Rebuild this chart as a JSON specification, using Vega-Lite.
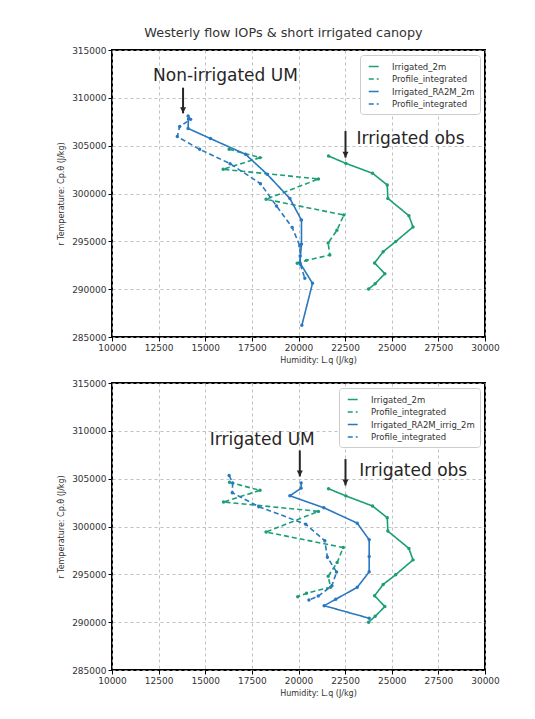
{
  "$schema": "https://vega.github.io/schema/vega-lite/v6.json",
  "padding": {"left": 56, "top": 27, "right": 5, "bottom": 5},
  "background": "white",
  "title": {"text": "Westerly flow IOPs & short irrigated canopy", "fontSize": 12.8, "fontWeight": "normal", "font": "DejaVu Sans", "color": "#333", "anchor": "middle", "dx": 5, "offset": 5},
  "spacing": 13,
  "datasets": {
    "top_lines": [
      {"series": "Irrigated_2m", "i": 0, "x": 21610, "y": 303920},
      {"series": "Irrigated_2m", "i": 1, "x": 22540, "y": 303150},
      {"series": "Irrigated_2m", "i": 2, "x": 23970, "y": 302110},
      {"series": "Irrigated_2m", "i": 3, "x": 24760, "y": 300890},
      {"series": "Irrigated_2m", "i": 4, "x": 24790, "y": 299490},
      {"series": "Irrigated_2m", "i": 5, "x": 25920, "y": 297680},
      {"series": "Irrigated_2m", "i": 6, "x": 26140, "y": 296500},
      {"series": "Irrigated_2m", "i": 7, "x": 25210, "y": 294970},
      {"series": "Irrigated_2m", "i": 8, "x": 24540, "y": 293920},
      {"series": "Irrigated_2m", "i": 9, "x": 24080, "y": 292740},
      {"series": "Irrigated_2m", "i": 10, "x": 24630, "y": 291620},
      {"series": "Irrigated_2m", "i": 11, "x": 24110, "y": 290570},
      {"series": "Irrigated_2m", "i": 12, "x": 23760, "y": 290020},
      {"series": "Profile_integrated_g", "i": 0, "x": 16280, "y": 304620},
      {"series": "Profile_integrated_g", "i": 1, "x": 17940, "y": 303750},
      {"series": "Profile_integrated_g", "i": 2, "x": 15960, "y": 302530},
      {"series": "Profile_integrated_g", "i": 3, "x": 21070, "y": 301520},
      {"series": "Profile_integrated_g", "i": 4, "x": 18260, "y": 299390},
      {"series": "Profile_integrated_g", "i": 5, "x": 22430, "y": 297750},
      {"series": "Profile_integrated_g", "i": 6, "x": 22060, "y": 296150},
      {"series": "Profile_integrated_g", "i": 7, "x": 21590, "y": 294830},
      {"series": "Profile_integrated_g", "i": 8, "x": 21680, "y": 293570},
      {"series": "Profile_integrated_g", "i": 9, "x": 20430, "y": 293010},
      {"series": "Profile_integrated_g", "i": 10, "x": 19930, "y": 292700},
      {"series": "Irrigated_RA2M_2m", "i": 0, "x": 14100, "y": 307800},
      {"series": "Irrigated_RA2M_2m", "i": 1, "x": 14080, "y": 306800},
      {"series": "Irrigated_RA2M_2m", "i": 2, "x": 15280, "y": 305740},
      {"series": "Irrigated_RA2M_2m", "i": 3, "x": 17160, "y": 304100},
      {"series": "Irrigated_RA2M_2m", "i": 4, "x": 18320, "y": 302010},
      {"series": "Irrigated_RA2M_2m", "i": 5, "x": 19540, "y": 299470},
      {"series": "Irrigated_RA2M_2m", "i": 6, "x": 20160, "y": 297220},
      {"series": "Irrigated_RA2M_2m", "i": 7, "x": 20160, "y": 294710},
      {"series": "Irrigated_RA2M_2m", "i": 8, "x": 20070, "y": 292780},
      {"series": "Irrigated_RA2M_2m", "i": 9, "x": 20750, "y": 290610},
      {"series": "Irrigated_RA2M_2m", "i": 10, "x": 20180, "y": 286220},
      {"series": "Profile_integrated_b", "i": 0, "x": 14080, "y": 308100},
      {"series": "Profile_integrated_b", "i": 1, "x": 14220, "y": 307750},
      {"series": "Profile_integrated_b", "i": 2, "x": 13630, "y": 307000},
      {"series": "Profile_integrated_b", "i": 3, "x": 13500, "y": 305950},
      {"series": "Profile_integrated_b", "i": 4, "x": 14700, "y": 304620},
      {"series": "Profile_integrated_b", "i": 5, "x": 16330, "y": 303120},
      {"series": "Profile_integrated_b", "i": 6, "x": 17960, "y": 301030},
      {"series": "Profile_integrated_b", "i": 7, "x": 18820, "y": 298690},
      {"series": "Profile_integrated_b", "i": 8, "x": 19660, "y": 296460},
      {"series": "Profile_integrated_b", "i": 9, "x": 20070, "y": 294510},
      {"series": "Profile_integrated_b", "i": 10, "x": 20090, "y": 293470},
      {"series": "Profile_integrated_b", "i": 11, "x": 20100, "y": 292600},
      {"series": "Profile_integrated_b", "i": 12, "x": 20340, "y": 291130}
    ],
    "bottom_lines": [
      {"series": "Irrigated_2m", "i": 0, "x": 21610, "y": 303950},
      {"series": "Irrigated_2m", "i": 1, "x": 22540, "y": 303200},
      {"series": "Irrigated_2m", "i": 2, "x": 23970, "y": 302140},
      {"series": "Irrigated_2m", "i": 3, "x": 24760, "y": 300920},
      {"series": "Irrigated_2m", "i": 4, "x": 24790, "y": 299520},
      {"series": "Irrigated_2m", "i": 5, "x": 25920, "y": 297710},
      {"series": "Irrigated_2m", "i": 6, "x": 26140, "y": 296510},
      {"series": "Irrigated_2m", "i": 7, "x": 25210, "y": 294960},
      {"series": "Irrigated_2m", "i": 8, "x": 24540, "y": 293940},
      {"series": "Irrigated_2m", "i": 9, "x": 24080, "y": 292760},
      {"series": "Irrigated_2m", "i": 10, "x": 24630, "y": 291630},
      {"series": "Irrigated_2m", "i": 11, "x": 24110, "y": 290610},
      {"series": "Irrigated_2m", "i": 12, "x": 23760, "y": 290000},
      {"series": "Profile_integrated_g", "i": 0, "x": 16300, "y": 304620},
      {"series": "Profile_integrated_g", "i": 1, "x": 17940, "y": 303780},
      {"series": "Profile_integrated_g", "i": 2, "x": 15980, "y": 302560},
      {"series": "Profile_integrated_g", "i": 3, "x": 21070, "y": 301580},
      {"series": "Profile_integrated_g", "i": 4, "x": 18260, "y": 299420},
      {"series": "Profile_integrated_g", "i": 5, "x": 22400, "y": 297800},
      {"series": "Profile_integrated_g", "i": 6, "x": 22070, "y": 296230},
      {"series": "Profile_integrated_g", "i": 7, "x": 21590, "y": 294800},
      {"series": "Profile_integrated_g", "i": 8, "x": 21720, "y": 293650},
      {"series": "Profile_integrated_g", "i": 9, "x": 20430, "y": 293030},
      {"series": "Profile_integrated_g", "i": 10, "x": 19960, "y": 292650},
      {"series": "Irrigated_RA2M_irrig_2m", "i": 0, "x": 20140, "y": 304540},
      {"series": "Irrigated_RA2M_irrig_2m", "i": 1, "x": 20140, "y": 304010},
      {"series": "Irrigated_RA2M_irrig_2m", "i": 2, "x": 19540, "y": 303210},
      {"series": "Irrigated_RA2M_irrig_2m", "i": 3, "x": 21360, "y": 301960},
      {"series": "Irrigated_RA2M_irrig_2m", "i": 4, "x": 23150, "y": 300350},
      {"series": "Irrigated_RA2M_irrig_2m", "i": 5, "x": 23790, "y": 298610},
      {"series": "Irrigated_RA2M_irrig_2m", "i": 6, "x": 23790, "y": 296860},
      {"series": "Irrigated_RA2M_irrig_2m", "i": 7, "x": 23790, "y": 295260},
      {"series": "Irrigated_RA2M_irrig_2m", "i": 8, "x": 23150, "y": 293640},
      {"series": "Irrigated_RA2M_irrig_2m", "i": 9, "x": 22000, "y": 292400},
      {"series": "Irrigated_RA2M_irrig_2m", "i": 10, "x": 21380, "y": 291720},
      {"series": "Irrigated_RA2M_irrig_2m", "i": 11, "x": 23790, "y": 290410},
      {"series": "Profile_integrated_b", "i": 0, "x": 16280, "y": 305330},
      {"series": "Profile_integrated_b", "i": 1, "x": 16470, "y": 304550},
      {"series": "Profile_integrated_b", "i": 2, "x": 16450, "y": 303530},
      {"series": "Profile_integrated_b", "i": 3, "x": 17870, "y": 302070},
      {"series": "Profile_integrated_b", "i": 4, "x": 20390, "y": 300240},
      {"series": "Profile_integrated_b", "i": 5, "x": 21410, "y": 298510},
      {"series": "Profile_integrated_b", "i": 6, "x": 21550, "y": 296790},
      {"series": "Profile_integrated_b", "i": 7, "x": 22040, "y": 295240},
      {"series": "Profile_integrated_b", "i": 8, "x": 21790, "y": 293800},
      {"series": "Profile_integrated_b", "i": 9, "x": 21060, "y": 292730},
      {"series": "Profile_integrated_b", "i": 10, "x": 20560, "y": 292320}
    ],
    "top_text": [
      {"label": "Non-irrigated UM", "x": 12200, "y": 312300},
      {"label": "Irrigated obs", "x": 23110, "y": 305660}
    ],
    "top_arrows": [
      {"x": 13810, "y": 311060, "y2": 308380},
      {"x": 22520, "y": 306530, "y2": 303750}
    ],
    "bottom_text": [
      {"label": "Irrigated UM", "x": 15240, "y": 309070},
      {"label": "Irrigated obs", "x": 23256, "y": 305760}
    ],
    "bottom_arrows": [
      {"x": 20070, "y": 307950, "y2": 305230},
      {"x": 22520, "y": 307050, "y2": 304290}
    ]
  },
  "resolve": {"scale": {"color": "independent", "strokeDash": "independent"}, "legend": {"color": "independent", "strokeDash": "independent"}},
  "vconcat": [
    {
      "width": 373,
      "height": 287,
      "layer": [
        {
          "data": {"name": "top_lines"},
          "mark": {"type": "line", "strokeWidth": 1.6, "point": {"filled": true, "size": 12}},
          "encoding": {
            "x": {"field": "x", "type": "quantitative", "scale": {"domain": [10000, 30000], "nice": false, "zero": false}, "axis": {"values": [10000, 12500, 15000, 17500, 20000, 22500, 25000, 27500, 30000], "format": "d", "title": "Humidity: L.q (J/kg)", "titleX": 206}},
            "y": {"field": "y", "type": "quantitative", "scale": {"domain": [285000, 315000], "nice": false, "zero": false}, "axis": {"values": [285000, 290000, 295000, 300000, 305000, 310000, 315000], "format": "d", "title": "r Temperature: Cp.θ̇ (J/kg)"}},
            "color": {"field": "series", "type": "nominal", "scale": {"domain": ["Irrigated_2m", "Profile_integrated_g", "Irrigated_RA2M_2m", "Profile_integrated_b"], "range": ["#1b9e77", "#1b9e77", "#2878c0", "#2878c0"]}, "legend": {"title": null, "orient": "top-right", "labelExpr": "indexof(datum.label, 'Profile_integrated') == 0 ? 'Profile_integrated' : datum.label"}},
            "strokeDash": {"field": "series", "type": "nominal", "scale": {"domain": ["Irrigated_2m", "Profile_integrated_g", "Irrigated_RA2M_2m", "Profile_integrated_b"], "range": [[1, 0], [5, 3], [1, 0], [5, 3]]}, "legend": {"title": null, "orient": "top-right", "labelExpr": "indexof(datum.label, 'Profile_integrated') == 0 ? 'Profile_integrated' : datum.label"}},
            "order": {"field": "i", "type": "quantitative"}
          }
        },
        {
          "data": {"name": "top_arrows"},
          "mark": {"type": "rule", "strokeWidth": 2, "color": "#262626"},
          "encoding": {"x": {"field": "x", "type": "quantitative"}, "y": {"field": "y", "type": "quantitative"}, "y2": {"field": "y2"}}
        },
        {
          "data": {"name": "top_arrows"},
          "mark": {"type": "point", "shape": "M-0.5,-1L0.5,-1L0,0Z", "size": 144, "filled": true, "color": "#262626", "opacity": 1},
          "encoding": {"x": {"field": "x", "type": "quantitative"}, "y": {"field": "y2", "type": "quantitative"}}
        },
        {
          "data": {"name": "top_text"},
          "mark": {"type": "text", "align": "left", "baseline": "middle", "fontSize": 17, "color": "#262626", "font": "DejaVu Sans"},
          "encoding": {"x": {"field": "x", "type": "quantitative"}, "y": {"field": "y", "type": "quantitative"}, "text": {"field": "label"}}
        }
      ]
    },
    {
      "width": 373,
      "height": 287,
      "layer": [
        {
          "data": {"name": "bottom_lines"},
          "mark": {"type": "line", "strokeWidth": 1.6, "point": {"filled": true, "size": 12}},
          "encoding": {
            "x": {"field": "x", "type": "quantitative", "scale": {"domain": [10000, 30000], "nice": false, "zero": false}, "axis": {"values": [10000, 12500, 15000, 17500, 20000, 22500, 25000, 27500, 30000], "format": "d", "title": "Humidity: L.q (J/kg)", "titleX": 206}},
            "y": {"field": "y", "type": "quantitative", "scale": {"domain": [285000, 315000], "nice": false, "zero": false}, "axis": {"values": [285000, 290000, 295000, 300000, 305000, 310000, 315000], "format": "d", "title": "r Temperature: Cp.θ̇ (J/kg)"}},
            "color": {"field": "series", "type": "nominal", "scale": {"domain": ["Irrigated_2m", "Profile_integrated_g", "Irrigated_RA2M_irrig_2m", "Profile_integrated_b"], "range": ["#1b9e77", "#1b9e77", "#2878c0", "#2878c0"]}, "legend": {"title": null, "orient": "top-right", "labelExpr": "indexof(datum.label, 'Profile_integrated') == 0 ? 'Profile_integrated' : datum.label"}},
            "strokeDash": {"field": "series", "type": "nominal", "scale": {"domain": ["Irrigated_2m", "Profile_integrated_g", "Irrigated_RA2M_irrig_2m", "Profile_integrated_b"], "range": [[1, 0], [5, 3], [1, 0], [5, 3]]}, "legend": {"title": null, "orient": "top-right", "labelExpr": "indexof(datum.label, 'Profile_integrated') == 0 ? 'Profile_integrated' : datum.label"}},
            "order": {"field": "i", "type": "quantitative"}
          }
        },
        {
          "data": {"name": "bottom_arrows"},
          "mark": {"type": "rule", "strokeWidth": 2, "color": "#262626"},
          "encoding": {"x": {"field": "x", "type": "quantitative"}, "y": {"field": "y", "type": "quantitative"}, "y2": {"field": "y2"}}
        },
        {
          "data": {"name": "bottom_arrows"},
          "mark": {"type": "point", "shape": "M-0.5,-1L0.5,-1L0,0Z", "size": 144, "filled": true, "color": "#262626", "opacity": 1},
          "encoding": {"x": {"field": "x", "type": "quantitative"}, "y": {"field": "y2", "type": "quantitative"}}
        },
        {
          "data": {"name": "bottom_text"},
          "mark": {"type": "text", "align": "left", "baseline": "middle", "fontSize": 17, "color": "#262626", "font": "DejaVu Sans"},
          "encoding": {"x": {"field": "x", "type": "quantitative"}, "y": {"field": "y", "type": "quantitative"}, "text": {"field": "label"}}
        }
      ]
    }
  ],
  "config": {
    "font": "DejaVu Sans",
    "view": {"stroke": "#000", "strokeWidth": 2},
    "axis": {"domain": false, "grid": true, "gridColor": "#b0b0b0", "gridDash": [3, 3], "gridWidth": 0.8, "tickColor": "#000", "tickSize": 4, "tickWidth": 1, "labelFont": "DejaVu Sans", "labelFontSize": 9, "labelColor": "#333", "labelPadding": 2, "titleFont": "DejaVu Sans", "titleFontSize": 8, "titleFontWeight": "normal", "titleColor": "#333", "labelFlush": false, "labelOverlap": false},
    "axisY": {"titlePadding": 6},
    "axisX": {"titlePadding": 4},
    "legend": {"fillColor": "#fff", "strokeColor": "#ccc", "padding": 5, "cornerRadius": 3, "offset": 5, "labelFontSize": 8.5, "labelColor": "#333", "labelFont": "DejaVu Sans", "symbolType": "M-0.5,0H1.3", "symbolSize": 121, "symbolStrokeWidth": 1.5, "rowPadding": 1.5, "labelOffset": 14}
  }
}
